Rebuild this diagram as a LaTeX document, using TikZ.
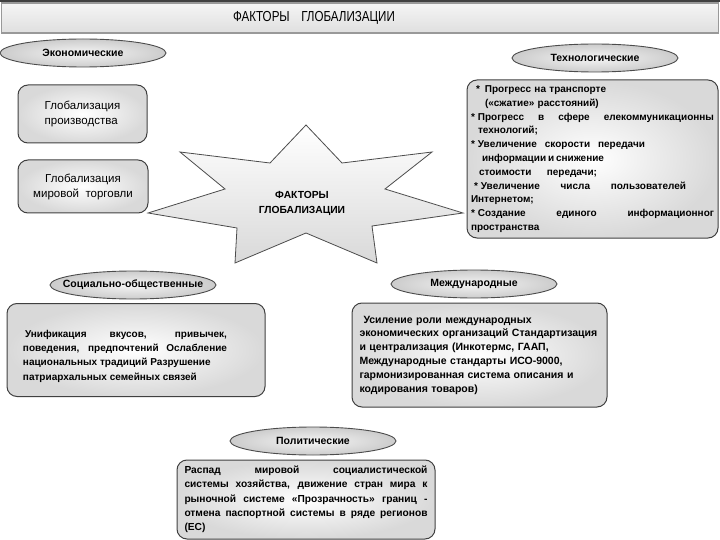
\documentclass[tikz,border=0pt]{standalone}
\usepackage{fontspec}
\setmainfont{Liberation Sans}
\usepackage{graphicx}
\usetikzlibrary{shapes.geometric}
\newcommand{\wideline}[2]{\makebox[#1][s]{\spaceskip=0pt\xspaceskip=0pt\relax #2}}
\newcommand{\bul}{*\hspace{3pt}}
\tikzset{
  header/.style={ellipse, draw=black!70, line width=0.9pt, inner color=gray!8, outer color=gray!40,
    minimum width=166pt, minimum height=28pt, inner xsep=-30pt, inner ysep=0pt,
    font=\bfseries\fontsize{10.5}{12}\selectfont},
  factbox/.style={rectangle, rounded corners=10pt, draw=black!75, line width=1pt, inner color=white,
    outer color=gray!30, inner sep=4pt, font=\bfseries\fontsize{10.5}{13.8}\selectfont},
  plainbox/.style={factbox, font=\fontsize{11.5}{15}\selectfont}
}

\begin{document}
\begin{tikzpicture}[x=1pt, y=-1pt]
\useasboundingbox (0,0) rectangle (720,540);
\fill[black!75] (0,0) rectangle (720,2);
\node[draw=gray!80, line width=1.2pt, top color=gray!8, bottom color=gray!25, minimum width=717pt,
  minimum height=30pt, inner sep=0pt] (bar) at (360,18) {};
\node[font=\fontsize{14.5}{16}\selectfont] (title) at (314,18) {\scalebox{0.8}[1]{ФАКТОРЫ\quad ГЛОБАЛИЗАЦИИ}};

\draw[draw=black!70, line width=0.8pt, top color=white, bottom color=gray!30]
  (306,125) -- (342,163) -- (432,152) -- (385,189) -- (463,213) -- (372,226) -- (377,263)
  -- (306,233) -- (235,263) -- (237,228) -- (148,213) -- (225,189) -- (180,152) -- (270,163) -- cycle;
\node[font=\bfseries\fontsize{10.3}{15}\selectfont, align=center] (star) at (302,203) {ФАКТОРЫ\\ГЛОБАЛИЗАЦИИ};

\node[header] (econ) at (83,53) {Экономические};
\node[header] (tech) at (595,58) {Технологические};
\node[header] (soc) at (133,285) {Социально-общественные};
\node[header] (intl) at (474,284) {Международные};
\node[header] (pol) at (313,441) {Политические};

\node[plainbox, minimum width=129pt, minimum height=58pt, align=left] (prodbox) at (82.5,114)
  {Глобализация\\производства};
\node[plainbox, minimum width=130pt, minimum height=53pt, align=center] (tradebox) at (83,186.5)
  {Глобализация\\мировой\ \ торговли};

\node[factbox, font=\bfseries\fontsize{10}{13.8}\selectfont, minimum width=251pt, minimum height=158pt,
  text width=243pt, align=left] (techbox) at (592.5,159)
  {\hspace*{5pt}*\hspace{5pt}Прогресс на транспорте\\
   \hspace*{14pt}(«сжатие» расстояний)\\
   \wideline{243pt}{\bul Прогресс в сфере елекоммуникационны}\\
   \hspace*{7pt}технологий;\\
   \wideline{174pt}{\bul Увеличение скорости передачи}\\
   \hspace*{11pt}\wideline{118pt}{информации и снижение}\\
   \hspace*{8pt}\wideline{118pt}{стоимости передачи;}\\
   \hspace*{3pt}\wideline{212pt}{\bul Увеличение числа пользователей}\\
   Интернетом;\\
   \wideline{243pt}{\bul Создание единого информационног}\\
   пространства};

\node[factbox, minimum width=258pt, minimum height=93pt] (socbox) at (136,350) {};
\node[font=\bfseries\fontsize{10}{14.3}\selectfont, text width=204pt, align=justify, inner sep=0pt] (soctext) at (125,356)
  {\hspace*{2pt}Унификация вкусов, привычек,\linebreak
   поведения, предпочтений Ослабление\linebreak
   национальных традиций Разрушение\newline
   патриархальных семейных связей};

\node[factbox, minimum width=255pt, minimum height=104pt, text width=240pt, align=left] (intbox) at (479.5,355)
  {\hspace*{4pt}Усиление роли международных\\
   экономических организаций Стандартизация\\
   и централизация (Инкотермс, ГААП,\\
   Международные стандарты ИСО-9000,\\
   гармонизированная система описания и\\
   кодирования товаров)};

\node[factbox, font=\bfseries\fontsize{10.2}{14.3}\selectfont, minimum width=258pt, minimum height=79pt,
  text width=243pt, align=justify] (polbox) at (306,499.5)
  {Распад мировой социалистической\linebreak
   системы хозяйства, движение стран мира к\linebreak
   рыночной системе «Прозрачность» границ -\linebreak
   отмена паспортной системы в ряде регионов\linebreak
   (ЕС)};
\end{tikzpicture}
\end{document}
